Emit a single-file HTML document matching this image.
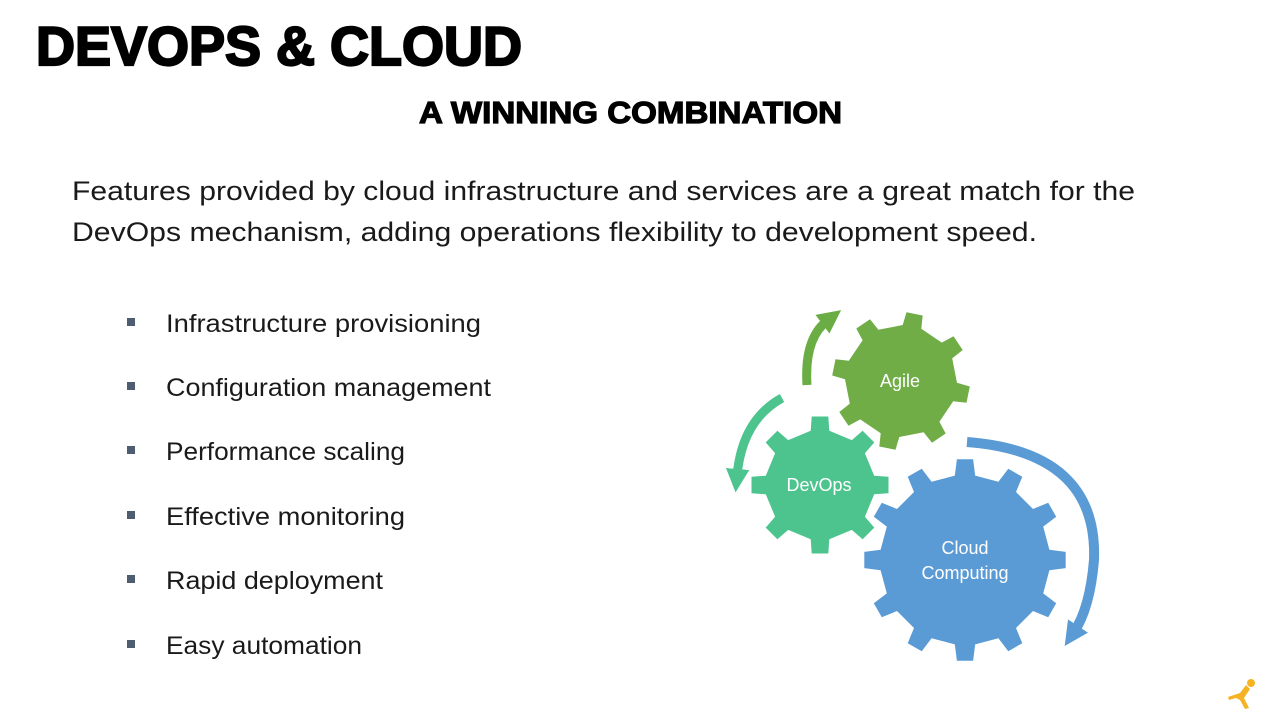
<!DOCTYPE html>
<html><head><meta charset="utf-8"><style>
html,body{margin:0;padding:0;background:#fff;}
svg{display:block;}
</style></head><body>
<svg id="s" width="1280" height="720" viewBox="0 0 1280 720" xmlns="http://www.w3.org/2000/svg">
<defs>
<marker id="mg" viewBox="0 0 10 10" refX="3" refY="5" markerWidth="2.6" markerHeight="2.6" orient="auto"><path d="M0,0 L10,5 L0,10 z" fill="#6aad45"/></marker>
<marker id="mt" viewBox="0 0 10 10" refX="3" refY="5" markerWidth="2.6" markerHeight="2.6" orient="auto"><path d="M0,0 L10,5 L0,10 z" fill="#4dc48e"/></marker>
<marker id="mb" viewBox="0 0 10 10" refX="3" refY="5" markerWidth="2.4" markerHeight="2.4" orient="auto"><path d="M0,0 L10,5 L0,10 z" fill="#5b9bd5"/></marker>
</defs>
<text x="36" y="65" font-family="Liberation Sans, Arial, sans-serif" font-weight="bold" font-size="55" textLength="486" lengthAdjust="spacingAndGlyphs" fill="#000" stroke="#000" stroke-width="2.2">DEVOPS &amp; CLOUD</text>
<text x="419" y="123" font-family="Liberation Sans, Arial, sans-serif" font-weight="bold" font-size="31" textLength="423" lengthAdjust="spacingAndGlyphs" fill="#000" stroke="#000" stroke-width="1.2">A WINNING COMBINATION</text>
<g font-family="Liberation Sans, Arial, sans-serif" font-size="27" fill="#1a1a1a">
<text x="72" y="200" textLength="1063" lengthAdjust="spacingAndGlyphs">Features provided by cloud infrastructure and services are a great match for the</text>
<text x="72" y="241" textLength="965" lengthAdjust="spacingAndGlyphs">DevOps mechanism, adding operations flexibility to development speed.</text>
</g>
<g font-family="Liberation Sans, Arial, sans-serif" font-size="25" fill="#1a1a1a">
<rect x="127" y="318" width="8" height="8" fill="#4e5d70"/><text x="166" y="332" textLength="315" lengthAdjust="spacingAndGlyphs">Infrastructure provisioning</text>
<rect x="127" y="382" width="8" height="8" fill="#4e5d70"/><text x="166" y="396" textLength="325" lengthAdjust="spacingAndGlyphs">Configuration management</text>
<rect x="127" y="446" width="8" height="8" fill="#4e5d70"/><text x="166" y="460" textLength="239" lengthAdjust="spacingAndGlyphs">Performance scaling</text>
<rect x="127" y="511" width="8" height="8" fill="#4e5d70"/><text x="166" y="525" textLength="239" lengthAdjust="spacingAndGlyphs">Effective monitoring</text>
<rect x="127" y="575" width="8" height="8" fill="#4e5d70"/><text x="166" y="589" textLength="217" lengthAdjust="spacingAndGlyphs">Rapid deployment</text>
<rect x="127" y="640" width="8" height="8" fill="#4e5d70"/><text x="166" y="654" textLength="196" lengthAdjust="spacingAndGlyphs">Easy automation</text>
</g>
<path d="M807,385 Q804,338 828,320" fill="none" stroke="#6aad45" stroke-width="9" marker-end="url(#mg)"/>
<path d="M782,398 Q742,420 737,476" fill="none" stroke="#4dc48e" stroke-width="9" marker-end="url(#mt)"/>
<path d="M967,442 Q1098,452 1094,560 Q1090,608 1074,632" fill="none" stroke="#5b9bd5" stroke-width="10" marker-end="url(#mb)"/>
<path id="gA" fill="#70ad47"/>
<path id="gD" fill="#4dc48e"/>
<path id="gC" fill="#5b9bd5"/>
<g font-family="Liberation Sans, Arial, sans-serif" font-size="18" fill="#fff" text-anchor="middle">
<text x="900" y="387">Agile</text>
<text x="819" y="491">DevOps</text>
<text x="965" y="554">Cloud</text>
<text x="965" y="579">Computing</text>
</g>
<g fill="#f5b324">
<circle cx="1251" cy="683" r="4"/>
<path d="M1228,697 L1240,693 L1246,685 L1250,689 L1244,698 L1249,708 L1245,709 L1240,700 L1236,698 L1229,700 z"/>
</g>
</svg>
<script>
function gear(cx,cy,ri,ro,n,ph,w1,w2){
 var d="",step=2*Math.PI/n;
 for(var i=0;i<n;i++){
  var a=ph+i*step;
  var pts=[[ri,a-w1],[ro,a-w2],[ro,a+w2],[ri,a+w1]];
  pts.forEach(function(p,j){
   var x=cx+p[0]*Math.cos(p[1]),y=cy+p[0]*Math.sin(p[1]);
   d+=(i==0&&j==0?"M":"L")+x.toFixed(1)+","+y.toFixed(1);
  });
 }
 return d+"Z";
}
document.getElementById("gA").setAttribute("d",gear(901,381,56,69,8,-Math.PI/2+0.2,0.17,0.12));
document.getElementById("gD").setAttribute("d",gear(820,485,55,69,8,-Math.PI/2,0.17,0.12));
document.getElementById("gC").setAttribute("d",gear(965,560,85,101,12,-Math.PI/2,0.12,0.08));
</script>
</body></html>
